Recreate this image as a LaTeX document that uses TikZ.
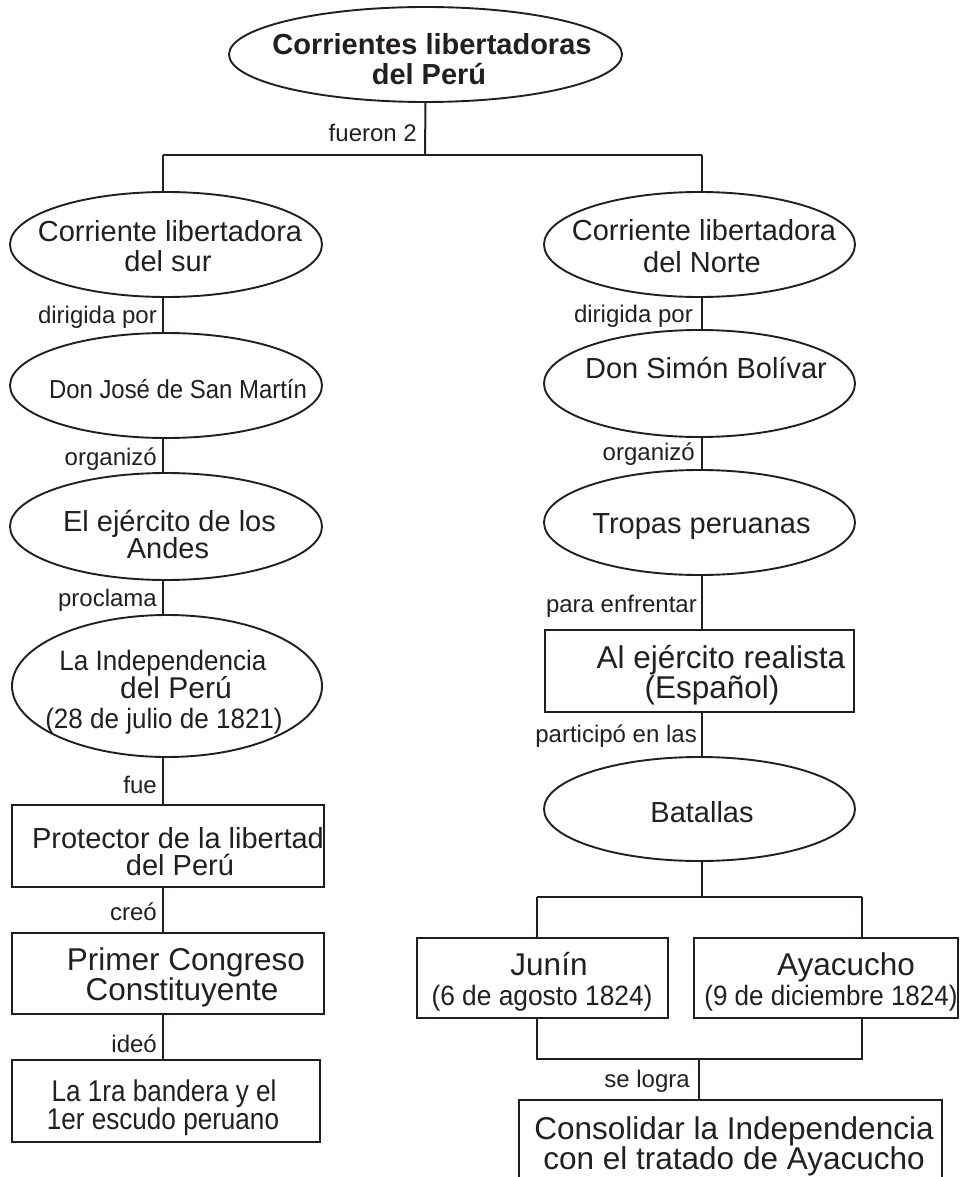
\documentclass[tikz,border=0pt]{standalone}
\usepackage{fontspec}
\setmainfont{Liberation Sans}
\usepackage{graphicx}
\usetikzlibrary{shapes.geometric}
\definecolor{ink}{RGB}{35,31,32}
\newcommand{\hsq}[2]{\scalebox{#1}[1]{#2}}
\begin{document}
\begin{tikzpicture}[x=1pt,y=-1pt,
  ell/.style={ellipse, draw=ink, line width=1.9pt, inner sep=0pt, outer sep=0pt},
  bx/.style={rectangle, draw=ink, line width=1.9pt, inner sep=0pt, outer sep=0pt},
  tx/.style={anchor=base, inner sep=0pt, text=ink, font=\fontsize{29}{30}\selectfont},
  txb/.style={anchor=base, inner sep=0pt, text=ink, font=\fontsize{31.5}{32}\selectfont},
  txc/.style={anchor=base, inner sep=0pt, text=ink, font=\fontsize{28}{30}\selectfont},
  lb/.style={anchor=base east, inner sep=0pt, text=ink, font=\fontsize{24}{26}\selectfont},
  ln/.style={draw=ink, line width=2pt}]
\useasboundingbox (0,0) rectangle (962,1177);
\fill[white] (0,0) rectangle (962,1177);
\clip (0,0) rectangle (962,1177);

% ---------- top ----------
\node[ell, minimum width=393pt, minimum height=95pt] (top) at (425.5,54.5) {};
\node[tx, font=\bfseries\fontsize{29}{30}\selectfont] (ttop1) at (432,55) {Corrientes libertadoras};
\node[tx, font=\bfseries\fontsize{29}{30}\selectfont] (ttop2) at (429,85) {del Perú};

\coordinate (hM) at (425,155);
\coordinate (hL) at (163,155);
\coordinate (hR) at (702,155);
\coordinate (lx) at (163,0);
\coordinate (rx) at (702,0);
\node[lb] (lfue2) at (417,142) {fueron 2};

% ---------- left column ----------
\node[ell, minimum width=312pt, minimum height=105pt] (s1) at (166,244.5) {};
\node[tx] (ts1a) at (170,241.7) {Corriente libertadora};
\node[tx] (ts1b) at (168,271.7) {del sur};

\node[lb] (ldir1) at (157,323) {dirigida por};

\node[ell, minimum width=312pt, minimum height=105pt] (s2) at (166,385.5) {};
\node[tx, font=\fontsize{26}{28}\selectfont] (ts2) at (178,398) {\hsq{0.92}{Don José de San Martín}};

\node[lb] (lorg1) at (157,465) {organizó};

\node[ell, minimum width=312pt, minimum height=107pt] (s3) at (166,526.5) {};
\node[tx] (ts3a) at (169.5,531) {El ejército de los};
\node[tx] (ts3b) at (168,558) {Andes};

\node[lb] (lpro) at (157,606.7) {proclama};

\node[ell, minimum width=310pt, minimum height=142pt] (s4) at (167,686) {};
\node[txc] (ts4a) at (163,670) {\hsq{0.93}{La Independencia}};
\node[tx, font=\fontsize{30}{30}\selectfont] (ts4b) at (176,698) {del Perú};
\node[txc] (ts4c) at (164,728) {\hsq{0.93}{(28 de julio de 1821)}};

\node[lb] (lfue) at (157,793) {fue};

\node[bx, minimum width=312pt, minimum height=82pt] (s5) at (168,846) {};
\node[tx] (ts5a) at (178,848) {Protector de la libertad};
\node[tx] (ts5b) at (180,875) {del Perú};

\node[lb] (lcreo) at (157,920) {creó};

\node[bx, minimum width=312pt, minimum height=81pt] (s6) at (168,973.5) {};
\node[txb] (ts6a) at (186,970) {Primer Congreso};
\node[txb] (ts6b) at (182,1000) {Constituyente};

\node[lb] (lideo) at (157,1052) {ideó};

\node[bx, minimum width=308pt, minimum height=82pt] (s7) at (166,1101) {};
\node[tx, font=\fontsize{30}{30}\selectfont] (ts7a) at (164,1101) {\hsq{0.87}{La 1ra bandera y el}};
\node[tx, font=\fontsize{30}{30}\selectfont] (ts7b) at (163,1129) {\hsq{0.87}{1er escudo peruano}};

% ---------- right column ----------
\node[ell, minimum width=311pt, minimum height=105pt] (n1) at (699.5,244.5) {};
\node[tx] (tn1a) at (704,240) {Corriente libertadora};
\node[tx] (tn1b) at (702,272) {del Norte};

\node[lb] (ldir2) at (693,322) {dirigida por};

\node[ell, minimum width=311pt, minimum height=107pt] (n2) at (699.5,383.5) {};
\node[tx] (tn2) at (706,378) {Don Simón Bolívar};

\node[lb] (lorg2) at (695,460) {organizó};

\node[ell, minimum width=311pt, minimum height=105pt] (n3) at (699.5,522.5) {};
\node[tx] (tn3) at (701.5,533) {Tropas peruanas};

\node[lb] (lpara) at (697,612) {para enfrentar};

\node[bx, minimum width=309pt, minimum height=82pt] (n4) at (699.5,671) {};
\node[txb] (tn4a) at (721,668) {Al ejército realista};
\node[txb] (tn4b) at (712,698) {(Español)};

\node[lb] (lpart) at (697,742) {participó en las};

\node[ell, minimum width=311pt, minimum height=104pt] (n5) at (699.5,809) {};
\node[tx] (tn5) at (702,822) {Batallas};

\coordinate (bL) at (537,897);
\coordinate (bR) at (862,897);
\coordinate (bM) at (702,897);

\node[bx, minimum width=251pt, minimum height=80pt] (jn) at (542.5,978) {};
\node[txb] (tjn1) at (549,975) {Junín};
\node[txc] (tjn2) at (542,1005) {\hsq{0.94}{(6 de agosto 1824)}};

\node[bx, minimum width=264pt, minimum height=80pt] (ay) at (826,978) {};
\node[txb] (tay1) at (846,975) {Ayacucho};
\node[txc] (tay2) at (831,1005) {\hsq{0.93}{(9 de diciembre 1824)}};

\coordinate (cL) at (537,1059);
\coordinate (cR) at (862,1059);
\coordinate (cM) at (699,1059);

\node[lb] (llog) at (690,1087) {se logra};

\node[bx, minimum width=423pt, minimum height=140pt] (cs) at (730.5,1170) {};
\node[txb] (tcs1) at (734,1139) {Consolidar la Independencia};
\node[txb] (tcs2) at (734,1169) {con el tratado de Ayacucho};

% ---------- connectors ----------
\draw[ln] (top.south) -- (hM);
\draw[ln] (hL) -- (hR);
\draw[ln] (hL) -- (s1.north -| lx);
\draw[ln] (hR) -- (n1.north -| rx);

\draw[ln] (s1.south -| lx) -- (s2.north -| lx);
\draw[ln] (s2.south -| lx) -- (s3.north -| lx);
\draw[ln] (s3.south -| lx) -- (s4.north -| lx);
\draw[ln] (s4.south -| lx) -- (s5.north -| lx);
\draw[ln] (s5.south -| lx) -- (s6.north -| lx);
\draw[ln] (s6.south -| lx) -- (s7.north -| lx);

\draw[ln] (n1.south -| rx) -- (n2.north -| rx);
\draw[ln] (n2.south -| rx) -- (n3.north -| rx);
\draw[ln] (n3.south -| rx) -- (n4.north -| rx);
\draw[ln] (n4.south -| rx) -- (n5.north -| rx);
\draw[ln] (n5.south -| rx) -- (bM);
\draw[ln] (bL) -- (bR);
\draw[ln] (bL) -- (jn.north -| bL);
\draw[ln] (bR) -- (ay.north -| bR);
\draw[ln] (jn.south -| cL) -- (cL) -- (cR) -- (ay.south -| cR);
\draw[ln] (cM) -- (cs.north -| cM);
\end{tikzpicture}
\end{document}
